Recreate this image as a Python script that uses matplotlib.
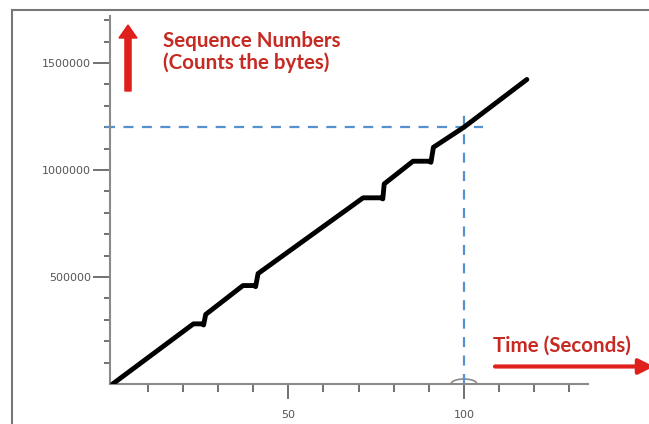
import matplotlib
matplotlib.use("Agg")
import matplotlib.pyplot as plt
from matplotlib.ticker import FixedLocator, NullFormatter, FixedFormatter
from matplotlib.patches import Arc
from matplotlib.lines import Line2D

# ---- data ----
time_s = [0, 23.0, 25.4, 25.9, 26.5, 37.1, 40.2, 40.7, 41.4, 71.3, 76.4, 76.9, 77.3,
          85.5, 90.1, 90.6, 91.3, 100.0, 117.9]
seq_bytes = [0, 281000, 281000, 276000, 325000, 460000, 460000, 455000, 516000,
             870000, 870000, 865000, 935000, 1041000, 1041000, 1036000, 1106000,
             1200000, 1423000]

x_major = [50, 100]
x_major_labels = ["50", "100"]
x_minor = [10, 20, 30, 40, 60, 70, 80, 90, 110, 120, 130]
y_major = [500000, 1000000, 1500000]
y_major_labels = ["500000", "1000000", "1500000"]
y_minor = [100000, 200000, 300000, 400000, 600000, 700000, 800000, 900000,
           1100000, 1200000, 1300000, 1400000, 1600000, 1700000]

ref_time = 100
ref_seq = 1200000
h_dash_x = [-2.2, 105.4]
v_dash_y = [0, 1263000]

y_title = ["Sequence Numbers", "(Counts the bytes)"]
x_title = "Time (Seconds)"

W, H = 649, 424
fig = plt.figure(figsize=(W / 100, H / 100), dpi=100)
fig.patch.set_facecolor("white")

ax = fig.add_axes([110 / W, 40 / H, 478 / W, 368 / H])
ax.set_xlim(-0.74, 135.3)
ax.set_ylim(0, 1719600)

for s in ["top", "right"]:
    ax.spines[s].set_visible(False)
for s in ["left", "bottom"]:
    ax.spines[s].set_color("#8a8a8a")
    ax.spines[s].set_linewidth(1.5)

ax.xaxis.set_major_locator(FixedLocator(x_major))
ax.xaxis.set_major_formatter(FixedFormatter(x_major_labels))
ax.xaxis.set_minor_locator(FixedLocator(x_minor))
ax.xaxis.set_minor_formatter(NullFormatter())
ax.yaxis.set_major_locator(FixedLocator(y_major))
ax.yaxis.set_major_formatter(FixedFormatter(y_major_labels))
ax.yaxis.set_minor_locator(FixedLocator(y_minor))
ax.yaxis.set_minor_formatter(NullFormatter())

ax.tick_params(axis="x", which="major", direction="out", length=11, width=1.3,
               color="#666666", labelsize=8, labelcolor="#555555", pad=8)
ax.tick_params(axis="x", which="minor", direction="out", length=6, width=1.3,
               color="#666666")
ax.tick_params(axis="y", which="major", direction="out", length=12, width=1.3,
               color="#666666", labelsize=8, labelcolor="#555555", pad=1.5)
ax.tick_params(axis="y", which="minor", direction="out", length=4, width=1.3,
               color="#666666")

# dashed reference lines
dash_color = "#5591cf"
ax.plot(h_dash_x, [ref_seq, ref_seq], color=dash_color, lw=1.6,
        dashes=(4.5, 3.8), clip_on=False, zorder=2)
ax.plot([ref_time, ref_time], v_dash_y, color=dash_color, lw=1.6,
        dashes=(4.5, 3.8), clip_on=False, zorder=2)

# small hump on the axis at t=100
ax.add_patch(Arc((ref_time, 0), 26 / 3.5137, 10 / 214e-6, theta1=0, theta2=180,
                 color="#8a8a8a", lw=1.2, clip_on=False))

# main line
ax.plot(time_s, seq_bytes, color="black", lw=3.5, solid_joinstyle="round",
        solid_capstyle="round", zorder=3)

# red annotations
txt_color = "#c62a22"
arrow_color = "#e0201c"
fs = 14.8
fam = ["Lato", "DejaVu Sans"]
fig.text(163 / W, (H - 47) / H, y_title[0], color=txt_color, fontsize=fs,
         fontweight="bold", family=fam, va="baseline", ha="left")
fig.text(163 / W, (H - 69) / H, y_title[1], color=txt_color, fontsize=fs,
         fontweight="bold", family=fam, va="baseline", ha="left")
fig.text(493 / W, (H - 352) / H, x_title, color=txt_color, fontsize=fs,
         fontweight="bold", family=fam, va="baseline", ha="left")

fig.add_artist(matplotlib.patches.FancyArrow(
    128 / W, (H - 91) / H, 0, 66 / H, width=4 / H, head_width=18 / W,
    head_length=13 / H, length_includes_head=True, color=arrow_color,
    transform=fig.transFigure))
ax.annotate("", xy=(654, H - 366.5), xycoords="figure pixels",
            xytext=(495, H - 366.5), textcoords="figure pixels",
            arrowprops=dict(arrowstyle="-|>,head_length=0.9,head_width=0.45",
                            color=arrow_color, lw=3, shrinkA=0, shrinkB=0))

# outer frame (top and left)
fig.add_artist(Line2D([12 / W, 1.0], [(H - 10) / H, (H - 10) / H],
                      transform=fig.transFigure, color="#777777", lw=1.5))
fig.add_artist(Line2D([12 / W, 12 / W], [0, (H - 10) / H],
                      transform=fig.transFigure, color="#777777", lw=1.5))

fig.savefig("out.png", dpi=100)
